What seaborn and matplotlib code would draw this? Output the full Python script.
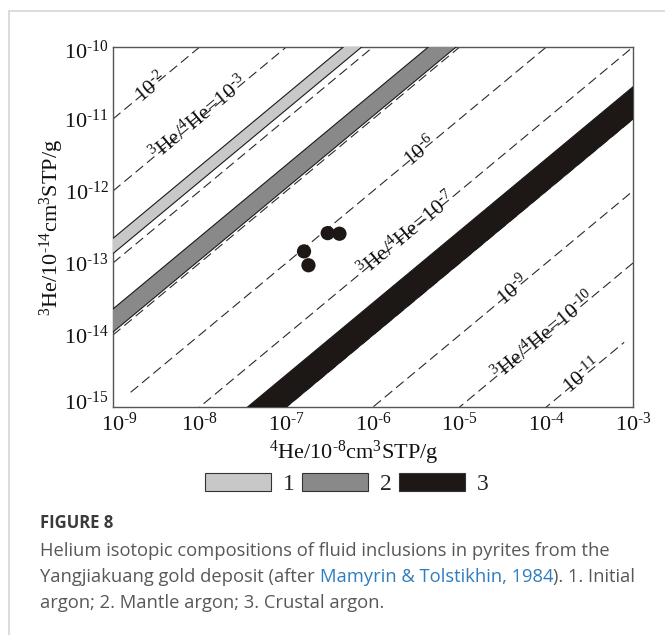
import numpy as np
import pandas as pd
import matplotlib
matplotlib.use("Agg")
import matplotlib.pyplot as plt
import seaborn as sns
from matplotlib.patches import Patch
from matplotlib.lines import Line2D
from matplotlib.ticker import NullLocator
from matplotlib.transforms import ScaledTranslation

# ---------------- data ----------------
x_lim = (1e-9, 1e-3)
y_lim = (1e-15, 1e-10)
x_ticks = [1e-9, 1e-8, 1e-7, 1e-6, 1e-5, 1e-4, 1e-3]
x_tick_labels = [r"$10^{\text{-}9}$", r"$10^{\text{-}8}$", r"$10^{\text{-}7}$",
                 r"$10^{\text{-}6}$", r"$10^{\text{-}5}$", r"$10^{\text{-}4}$",
                 r"$10^{\text{-}3}$"]
y_ticks = [1e-15, 1e-14, 1e-13, 1e-12, 1e-11, 1e-10]
y_tick_labels = [r"$10^{\text{-}15}$", r"$10^{\text{-}14}$", r"$10^{\text{-}13}$",
                 r"$10^{\text{-}12}$", r"$10^{\text{-}11}$", r"$10^{\text{-}10}$"]

# iso-ratio reference lines (3He/4He)
ratio_values = [1e-2, 1e-3, 1e-4, 1e-5, 1e-6, 1e-7, 1e-8, 1e-9, 1e-10, 1e-11]
ratio_x_start = [1e-9, 1e-9, 1e-9, 1e-9, 1.6e-9, 1e-9, 1e-9, 1e-9, 1e-9, 1e-9]
ratio_x_end = [1e-3, 1e-3, 1e-3, 1e-3, 1e-3, 1e-3, 1e-3, 1e-3, 1e-3, 7.9e-4]

# reservoir bands: 1 initial, 2 mantle, 3 crustal
band_labels = ["1", "2", "3"]
band_ratio_low = [1.35e-4, 1.1e-5, 1.0e-8]
band_ratio_high = [2.2e-4, 2.3e-5, 2.8e-8]
band_colors = ["#c8c8c8", "#898989", "#1d1715"]

# samples (pyrite fluid inclusions)
sample_he4 = [1.6e-7, 1.8e-7, 3.0e-7, 4.1e-7]
sample_he3 = [1.45e-13, 9.3e-14, 2.6e-13, 2.55e-13]

# line annotations
annot_texts = [r"$10^{\text{-}2}$", r"$^{3}$He/$^{4}$He=$10^{\text{-}3}$",
               r"$10^{\text{-}6}$", r"$^{3}$He/$^{4}$He=$10^{\text{-}7}$",
               r"$10^{\text{-}9}$", r"$^{3}$He/$^{4}$He=$10^{\text{-}10}$",
               r"$10^{\text{-}11}$"]
annot_ratio = [1e-2, 1e-3, 1e-6, 1e-7, 1e-9, 1e-10, 1e-11]
annot_he4 = [10**-8.56, 10**-8.0, 10**-5.45, 10**-5.6, 10**-4.38, 10**-4.02, 10**-3.58]

caption_title = "FIGURE 8"
caption_line1 = "Helium isotopic compositions of fluid inclusions in pyrites from the"
caption_line2a = "Yangjiakuang gold deposit (after"
caption_link = "Mamyrin & Tolstikhin, 1984"
caption_line2c = "). 1. Initial"
caption_line3 = "argon; 2. Mantle argon; 3. Crustal argon."

# ---------------- style ----------------
sns.set_theme(style="white")
plt.rcParams["font.family"] = ["Liberation Serif", "DejaVu Serif"]
plt.rcParams["mathtext.fontset"] = "custom"
plt.rcParams["mathtext.rm"] = "Liberation Serif"
plt.rcParams["mathtext.it"] = "Liberation Serif:italic"
plt.rcParams["mathtext.bf"] = "Liberation Serif:bold"
plt.rcParams["lines.scale_dashes"] = False

W, H = 665, 635
fig = plt.figure(figsize=(W / 100, H / 100), dpi=100)
fig.patch.set_facecolor("white")
ax = fig.add_axes([113 / W, 1 - 407 / H, 520 / W, 360 / H])
ax.set_xscale("log")
ax.set_yscale("log")

# dashed iso-ratio lines
rows = []
for r, xs, xe in zip(ratio_values, ratio_x_start, ratio_x_end):
    for xv in (xs, xe):
        rows.append({"he4": xv, "he3": r * xv, "ratio": f"{r:.0e}"})
lines_df = pd.DataFrame(rows)
sns.lineplot(data=lines_df, x="he4", y="he3", units="ratio", estimator=None,
             color="#2a2a2a", linewidth=0.8, linestyle=(0, (7, 3.6)),
             ax=ax, zorder=2, legend=False)

# bands
xb = np.array([x_lim[0] / 10, x_lim[1] * 10])
for lo, hi, c, lab in zip(band_ratio_low, band_ratio_high, band_colors, band_labels):
    ax.fill_between(xb, lo * xb, hi * xb, facecolor=c, edgecolor="#1a1a1a",
                    linewidth=0.8, zorder=3)

# samples
sns.scatterplot(x=sample_he4, y=sample_he3, s=105, color="#1d1715",
                edgecolor="none", linewidth=0, ax=ax, zorder=5, legend=False)

ax.set_xlim(*x_lim)
ax.set_ylim(*y_lim)
ax.set_xticks(x_ticks, x_tick_labels)
ax.set_yticks(y_ticks, y_tick_labels)
ax.xaxis.set_minor_locator(NullLocator())
ax.yaxis.set_minor_locator(NullLocator())
ax.tick_params(axis="both", length=0, labelsize=16, colors="#111111")
ax.tick_params(axis="x", pad=4)
ax.tick_params(axis="y", pad=3)
for s in ax.spines.values():
    s.set_visible(True)
    s.set_color("#555555")
    s.set_linewidth(1.0)

# small nudges of the corner tick labels, as in the reference
ylabs = ax.get_yticklabels()
ylabs[0].set_transform(ylabs[0].get_transform() + ScaledTranslation(0, 6 / 100, fig.dpi_scale_trans))
ylabs[-1].set_transform(ylabs[-1].get_transform() + ScaledTranslation(0, -3 / 100, fig.dpi_scale_trans))
xlabs = ax.get_xticklabels()
xlabs[0].set_transform(xlabs[0].get_transform() + ScaledTranslation(6 / 100, 0, fig.dpi_scale_trans))

ax.set_xlabel(r"$^{4}$He/10$^{\text{-}8}$cm$^{3}$STP/g", fontsize=16, color="#111111")
ax.xaxis.set_label_coords(0.462, -0.088)
ax.set_ylabel(r"$^{3}$He/10$^{\text{-}14}$cm$^{3}$STP/g", fontsize=16, color="#111111")
ax.yaxis.set_label_coords(-0.09, 0.5)

# annotation angle following slope-1 lines on screen
p0 = ax.transData.transform((1e-9, 1e-15))
p1 = ax.transData.transform((1e-8, 1e-14))
ang = np.degrees(np.arctan2(p1[1] - p0[1], p1[0] - p0[0]))
for t, r, xv in zip(annot_texts, annot_ratio, annot_he4):
    ax.text(xv, r * xv, t, rotation=ang, rotation_mode="anchor", ha="center",
            va="center", fontsize=15.5, color="#111111", zorder=6)

# legend
handles = [Patch(facecolor=c, edgecolor="#333333", linewidth=0.8, label=l)
           for c, l in zip(band_colors, band_labels)]
fig.legend(handles=handles, loc="center", bbox_to_anchor=(347 / W, 1 - 484 / H),
           ncol=3, frameon=False, prop={"family": "Liberation Serif", "size": 17},
           handlelength=2.8, handleheight=0.78, handletextpad=0.5,
           columnspacing=0.3, borderpad=0, borderaxespad=0)

# card frame
fcol = "#d9d9d9"
fig.add_artist(Line2D([9 / W, 1], [1 - 11 / H] * 2, transform=fig.transFigure,
                      color=fcol, lw=1.3))
fig.add_artist(Line2D([9 / W] * 2, [1 - 11 / H, 0], transform=fig.transFigure,
                      color=fcol, lw=1.3))

# caption
fs = 13.2
cap_kw = dict(fontfamily="Open Sans", fontsize=fs, color="#585858")
fig.text(40 / W, 1 - 523 / H, caption_title, va="center", fontfamily="Open Sans",
         fontsize=12, fontweight="bold", color="#3a3a3a")
fig.text(40 / W, 1 - 551 / H, caption_line1, va="center", **cap_kw)
t2a = fig.text(40 / W, 1 - 577 / H, caption_line2a, va="center", **cap_kw)
t2b = ax.annotate(caption_link, xy=(1, 0), xycoords=t2a, xytext=(3.6, 0),
                  textcoords="offset points", ha="left", va="bottom",
                  fontfamily="Open Sans", fontsize=fs, color="#2f7dc0")
ax.annotate(caption_line2c, xy=(1, 0), xycoords=t2b, ha="left", va="bottom", **cap_kw)
fig.text(40 / W, 1 - 603 / H, caption_line3, va="center", **cap_kw)

fig.savefig("out.png", dpi=100, facecolor="white")
